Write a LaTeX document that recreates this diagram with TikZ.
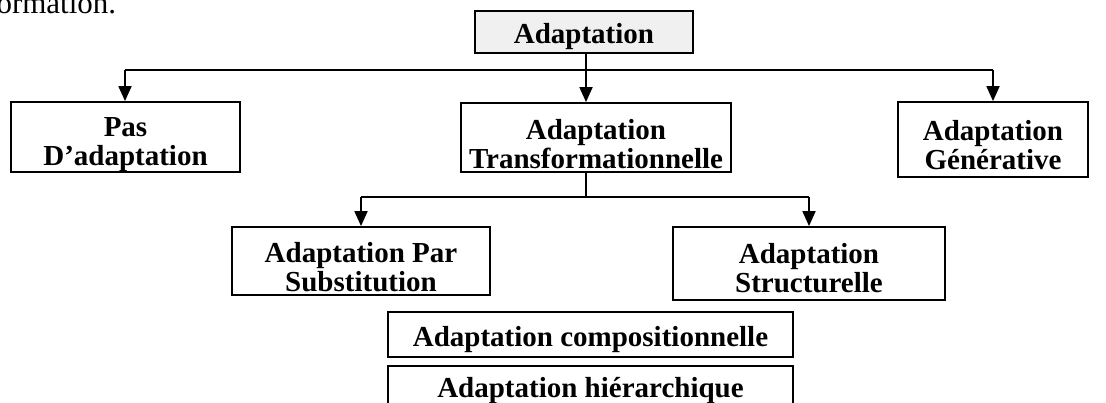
\documentclass[tikz,border=0pt]{standalone}
\usepackage{fontspec}
\setmainfont{Liberation Serif}
\usetikzlibrary{arrows.meta}
\newcommand{\firstline}{\rule{0pt}{20pt}}
\newcommand{\lastline}{\rule[-7pt]{0pt}{7pt}}
\begin{document}
\begin{tikzpicture}[x=1pt,y=-1pt,
  box/.style={draw,line width=1.8pt,inner sep=0pt},
  lbl/.style={inner sep=0pt,font=\bfseries\fontsize{29}{29}\selectfont,align=center},
  link/.style={line width=1.8pt},
  arr/.style={link,-{Triangle[length=15pt,width=13pt]}}]
\useasboundingbox (0,0) rectangle (1106,403);
\clip (0,0) rectangle (1106,403);
% running text above the figure
\node[anchor=base west,inner sep=0pt,font=\fontsize{31}{34}\selectfont] (prev) at (-14,14) {formation.};
% boxes
\node[box,fill=black!6,minimum width=218pt,minimum height=42pt] (root) at (584,32) {};
\node[box,minimum width=229pt,minimum height=70pt] (none) at (125.5,137) {};
\node[box,minimum width=270pt,minimum height=69pt] (trans) at (596,137.5) {};
\node[box,minimum width=190pt,minimum height=75pt] (gen) at (993,139.5) {};
\node[box,minimum width=258pt,minimum height=68pt] (subst) at (361,261) {};
\node[box,minimum width=272pt,minimum height=73pt] (struct) at (809,263.5) {};
\node[box,minimum width=405pt,minimum height=45pt] (comp) at (590.5,334.5) {};
\node[box,minimum width=405pt,minimum height=45pt,anchor=north] (hier) at (590.5,365) {};
% texts
\node[lbl,anchor=base] (rootT) at (584,44) {Adaptation};
\node[lbl] (noneT) at (125.5,145) {\firstline Pas\\D’adaptation\lastline};
\node[lbl] (transT) at (596,147) {\firstline Adaptation\\Transformationnelle\lastline};
\node[lbl] (genT) at (993,148) {\firstline Adaptation\\Générative\lastline};
\node[lbl] (substT) at (361,270) {\firstline Adaptation Par\\Substitution\lastline};
\node[lbl] (structT) at (809,271) {\firstline Adaptation\\Structurelle\lastline};
\node[lbl,anchor=base] (compT) at (590.5,346) {Adaptation compositionnelle};
\node[lbl,anchor=base] (hierT) at (590.5,397) {Adaptation hiérarchique};
% connectors
\coordinate (busL) at (125,70);
\coordinate (busC) at (586,70);
\coordinate (busR) at (993,70);
\draw[link] (root.south -| busC) -- (busC);
\draw[link] (busL) -- (busR);
\draw[arr] (busL) -- (none.north -| busL);
\draw[arr] (busC) -- (trans.north -| busC);
\draw[arr] (busR) -- (gen.north -| busR);
\coordinate (subL) at (361,197);
\coordinate (subR) at (809,197);
\draw[link] (trans.south -| busC) -- (busC |- subL);
\draw[link] (subL) -- (subR);
\draw[arr] (subL) -- (subst.north -| subL);
\draw[arr] (subR) -- (struct.north -| subR);
\end{tikzpicture}
\end{document}
